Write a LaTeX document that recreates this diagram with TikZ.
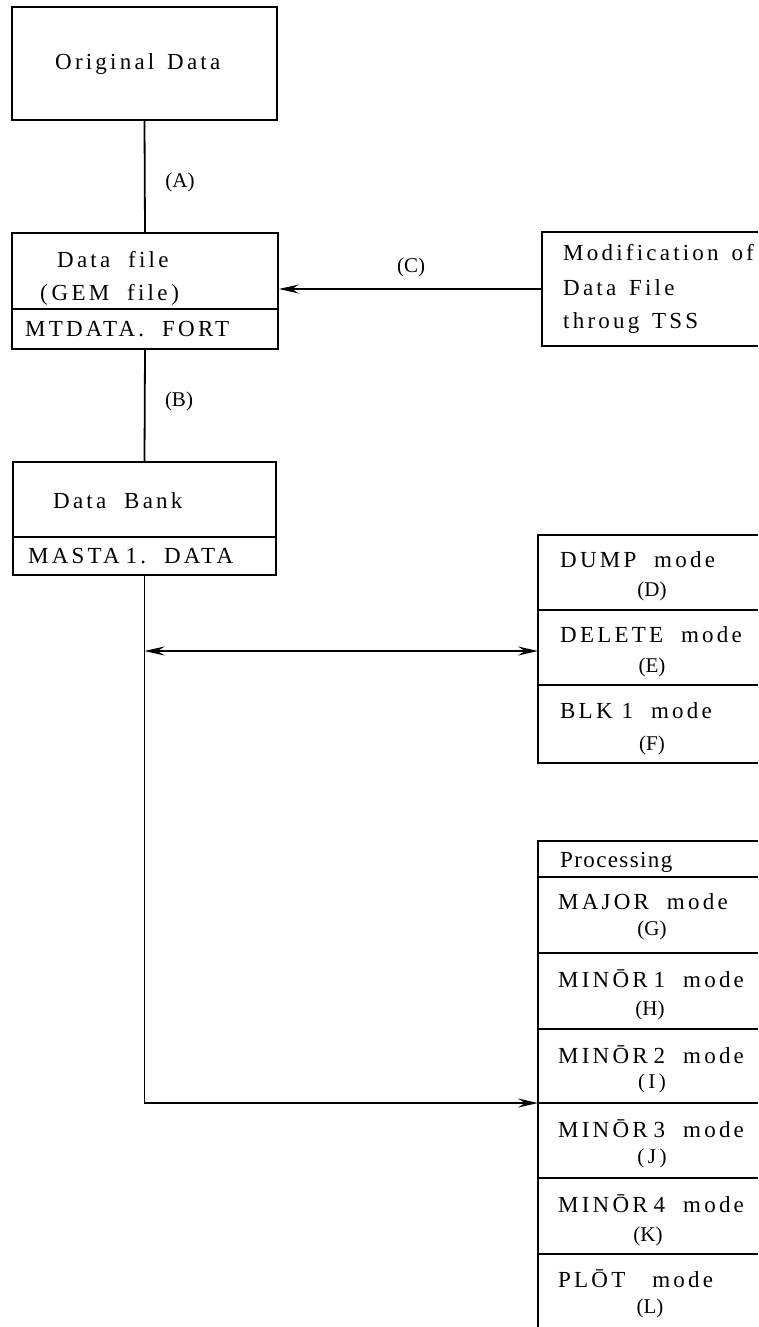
\documentclass[tikz,border=0pt]{standalone}
\usepackage{fontspec}
\setmainfont{Liberation Serif}
\newfontfamily\tw{Liberation Serif}[LetterSpace=14]
\newfontfamily\prop{Liberation Serif}[LetterSpace=6]
\newfontfamily\lblf{Liberation Serif}
\usetikzlibrary{arrows.meta}
\begin{document}
\begin{tikzpicture}[x=1pt,y=-1pt,
  ln/.style={line width=1.8pt},
  box/.style={draw, line width=1.8pt, rectangle, inner sep=0pt},
  txt/.style={anchor=base west, inner sep=0pt, font=\tw\fontsize{23}{27}\selectfont},
  ptxt/.style={anchor=base west, inner sep=0pt, font=\prop\fontsize{23}{27}\selectfont},
  lbl/.style={anchor=base, inner sep=0pt, font=\lblf\fontsize{21}{25}\selectfont},
  arr/.style={-{Stealth[length=20pt,width=9pt,inset=7pt]}},
  darr/.style={{Stealth[length=20pt,width=9pt,inset=7pt]}-{Stealth[length=20pt,width=9pt,inset=7pt]}}
]
\useasboundingbox (0,0) rectangle (758,1327);

% ---- left column boxes
\node[box, minimum width=265pt, minimum height=113pt] (orig) at (144.5,63.5) {};
\node[txt] (origt) at (55,70) {Original~\,Data};

\node[box, minimum width=266pt, minimum height=116pt] (dfile) at (145,291) {};
\draw[ln] (12,309) -- (278,309);
\node[txt] (dft1) at (57,267) {Data~~file};
\node[txt] (dft2) at (40,300) {(\,GEM~~file\,)};
\node[txt] (dft3) at (25,336) {MTDATA.~~FORT};

\node[box, minimum width=263pt, minimum height=113pt] (bank) at (144.5,518.5) {};
\draw[ln] (13,537) -- (276,537);
\node[txt] (bkt1) at (53,508) {Data~~Bank};
\node[txt] (bkt2) at (28,563) {MASTA\hspace{6pt}1.~~DATA};

% ---- modification box (cut at right edge)
\draw[ln] (758,232) -- (542,232) -- (542,346) -- (758,346);
\coordinate (modL) at (542,289);
\node[txt] (mt1) at (563,260) {Modification~\,of};
\node[txt] (mt2) at (563,295) {Data~\,File};
\node[txt] (mt3) at (563,328) {throug~\,TSS};

% ---- DUMP group
\draw[ln] (758,535) -- (538,535) -- (538,763) -- (758,763);
\draw[ln] (538,610) -- (758,610);
\draw[ln] (538,685) -- (758,685);
\coordinate (dumpL) at (538,651);
\node[txt] (d1) at (560,567) {DUMP~~mode};
\node[lbl] (d2) at (652,596) {(D)};
\node[txt] (e1) at (560,642) {DELETE~~mode};
\node[lbl] (e2) at (652,672) {(E)};
\node[txt] (f1) at (560,718) {BLK~1~~mode};
\node[lbl] (f2) at (652,750) {(F)};

% ---- Processing group
\draw[ln] (758,841) -- (538,841) -- (538,1327);
\foreach \yy in {877,953,1029,1103,1178,1254} \draw[ln] (538,\yy) -- (758,\yy);
\coordinate (procL) at (538,1103);
\node[ptxt] (p0) at (560,867) {Processing};
\node[txt] (g1) at (558,909) {MAJOR~~mode};
\node[lbl] (g2) at (652,935) {(G)};
\node[txt] (h1) at (558,987) {MIN\=OR\hspace{6pt}1~~mode};
\node[lbl] (h2) at (650,1015) {(H)};
\node[txt] (i1) at (558,1063) {MIN\=OR\hspace{6pt}2~~mode};
\node[lbl] (i2) at (652,1088) {(\,I\,)};
\node[txt] (j1) at (558,1137) {MIN\=OR\hspace{6pt}3~~mode};
\node[lbl] (j2) at (652,1163) {(\,J\,)};
\node[txt] (k1) at (558,1212) {MIN\=OR\hspace{6pt}4~~mode};
\node[lbl] (k2) at (648,1241) {(K)};
\node[txt] (l1) at (558,1287) {PL\=OT~~~mode};
\node[lbl] (l2) at (650,1313) {(L)};

% ---- connectors
\draw[ln] (orig.south) -- (dfile.north);
\node[lbl] (la) at (180,187) {(A)};
\draw[ln] (dfile.south) -- (bank.north);
\node[lbl] (lb) at (179,406) {(B)};
\draw[ln,arr] (modL) -- (dfile.east |- modL);
\node[lbl] (lc) at (411,272) {(C)};
\draw[ln,arr] (bank.south) |- (procL);
\draw[ln,darr] (bank.south |- dumpL) -- (dumpL);
\end{tikzpicture}
\end{document}
